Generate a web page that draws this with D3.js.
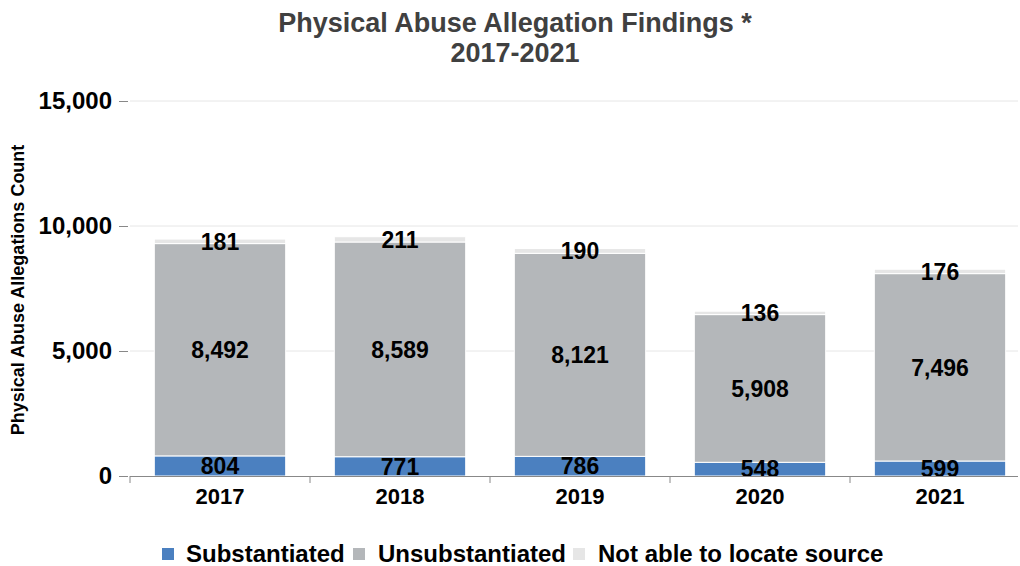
<!DOCTYPE html>
<html><head><meta charset="utf-8">
<script src="https://cdn.jsdelivr.net/npm/d3@7"></script>
<style>body{margin:0;background:#fff;font-family:"Liberation Sans",Arial,sans-serif}</style>
</head><body><svg id="c" width="1020" height="566"></svg>
<script>
const years = ["2017","2018","2019","2020","2021"];
const substantiated = [804,771,786,548,599];
const unsubstantiated = [8492,8589,8121,5908,7496];
const notLocated = [181,211,190,136,176];
const seriesNames = ["Substantiated","Unsubstantiated","Not able to locate source"];
const colors = ["#4b80c0","#b4b7ba","#e6e6e6"];
const yTicks = [0,5000,10000,15000];

const svg = d3.select("#c");
const x = d3.scaleBand().domain(years).range([130,1030]).paddingInner(0.27).paddingOuter(0.135);
const y = d3.scaleLinear().domain([0,15000]).range([476,101]);
const fmt = d3.format(",");

svg.append("text").attr("x",515).attr("y",32).attr("text-anchor","middle")
  .attr("font-size",27).attr("font-weight","bold").attr("fill","#404040").text("Physical Abuse Allegation Findings *");
svg.append("text").attr("x",515).attr("y",62).attr("text-anchor","middle")
  .attr("font-size",27).attr("font-weight","bold").attr("fill","#404040").text("2017-2021");

// grid
svg.append("g").selectAll("line").data(yTicks.filter(d=>d>0)).join("line")
  .attr("x1",130).attr("x2",1018).attr("y1",d=>y(d)).attr("y2",d=>y(d))
  .attr("stroke","#e6e6e6").attr("stroke-width",1);

// y axis
const ya = svg.append("g").attr("transform","translate(128,0)")
  .call(d3.axisLeft(y).tickValues(yTicks).tickFormat(fmt).tickSize(9).tickPadding(7));
ya.select(".domain").remove();
ya.selectAll(".tick line").attr("stroke","#888");
ya.selectAll("text").attr("font-size",24).attr("font-weight","bold").attr("fill","#000")
  .attr("font-family","Liberation Sans, Arial, sans-serif");

svg.append("text").attr("transform","translate(24,290) rotate(-90)").attr("text-anchor","middle")
  .attr("font-size",18).attr("font-weight","bold").attr("fill","#000").text("Physical Abuse Allegations Count");

// stacked data
const rows = years.map((yr,i)=>({year:yr, s:substantiated[i], u:unsubstantiated[i], n:notLocated[i]}));
const stack = d3.stack().keys(["s","u","n"])(rows);

const g = svg.append("g");
stack.forEach((layer,li)=>{
  g.append("g").selectAll("rect").data(layer).join("rect")
    .attr("x",d=>x(d.data.year)).attr("width",x.bandwidth())
    .attr("y",d=>y(d[1])).attr("height",d=>y(d[0])-y(d[1]))
    .attr("fill",colors[li]).attr("stroke","#fff").attr("stroke-width",1);
});
stack.forEach((layer,li)=>{
  g.append("g").selectAll("text").data(layer).join("text")
    .attr("x",d=>x(d.data.year)+x.bandwidth()/2)
    .attr("y",d=>(y(d[0])+y(d[1]))/2)
    .attr("dy","0.36em").attr("text-anchor","middle")
    .attr("font-size",23).attr("font-weight","bold").attr("fill","#000")
    .text(d=>fmt(d[1]-d[0]));
});

// x axis
const xa = svg.append("g").attr("transform","translate(0,476)")
  .call(d3.axisBottom(x).tickSize(0).tickPadding(12));
xa.select(".domain").remove();
xa.selectAll("text").attr("font-size",22).attr("font-weight","bold").attr("fill","#000")
  .attr("font-family","Liberation Sans, Arial, sans-serif");
svg.append("line").attr("x1",130).attr("x2",1018).attr("y1",476.5).attr("y2",476.5).attr("stroke","#888");
const bounds = [130].concat(years.map(d=>x(d)+x.bandwidth()/2+x.step()/2)).filter(v=>v<1020);
svg.append("g").selectAll("line").data(bounds).join("line")
  .attr("x1",d=>d).attr("x2",d=>d).attr("y1",476).attr("y2",483).attr("stroke","#888");

// legend
const legSq = [162,353,573];
const legTx = [186,378,598];
const lg = svg.append("g");
seriesNames.forEach((nm,i)=>{
  lg.append("rect").attr("x",legSq[i]).attr("y",548).attr("width",12).attr("height",12).attr("fill",colors[i]);
  lg.append("text").attr("x",legTx[i]).attr("y",562).attr("font-size",24).attr("font-weight","bold")
    .attr("fill","#000").text(nm);
});
</script></body></html>
